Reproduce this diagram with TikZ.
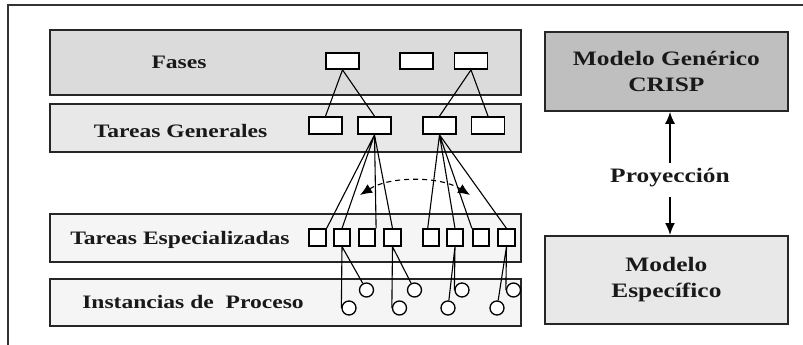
\documentclass[tikz,border=0pt]{standalone}
\usepackage{fontspec}
\setmainfont{Liberation Serif}[FakeStretch=1.24]
\usetikzlibrary{arrows.meta}
\begin{document}
\begin{tikzpicture}[x=1pt,y=-1pt,
  band/.style={rectangle, draw=black!85, line width=1.8pt, minimum width=471pt, anchor=north west, inner sep=0pt},
  bigbox/.style={rectangle, draw=black!85, line width=1.8pt, minimum width=243pt, anchor=north west, inner sep=0pt, align=center,
    font=\fontsize{20.5}{26}\selectfont\bfseries, text=black!90},
  lbl/.style={anchor=base, inner sep=0pt, font=\fontsize{19}{22}\selectfont\bfseries, text=black!90},
  wbox/.style={rectangle, draw=black, line width=1.7pt, fill=white, minimum width=33pt, minimum height=16pt, inner sep=0pt},
  sq/.style={rectangle, draw=black, line width=1.7pt, fill=white, minimum width=16.5pt, minimum height=16.5pt, inner sep=0pt},
  inst/.style={circle, draw=black, line width=1.3pt, fill=white, minimum size=14pt, inner sep=0pt},
  link/.style={draw=black, line width=1.1pt},
  tip/.tip={Latex[length=12pt,width=10pt]},
  arr/.style={draw=black, line width=1.7pt, -tip}
]
\useasboundingbox (0,0) rectangle (803,345);
% outer frame (cut off at right and bottom)
\coordinate (frTR) at (803,5);
\coordinate (frTL) at (8,5);
\coordinate (frBL) at (8,345);
\draw[black!80, line width=1.5pt] (frTR) -- (frTL) -- (frBL);

% bands
\node[band, fill=black!14, minimum height=65pt] (fb) at (49,29) {};
\node[band, fill=black!9, minimum height=48pt] (gb) at (49,103) {};
\node[band, fill=black!4, minimum height=48pt] (eb) at (49,213) {};
\node[band, fill=black!4, minimum height=47pt] (ib) at (49,278) {};

\node[lbl] (tf) at (179,68) {Fases};
\node[lbl] (tg) at (180.5,137) {Tareas Generales};
\node[lbl] (te) at (180,244) {Tareas Especializadas};
\node[lbl] (ti) at (193,308) {Instancias de\ \ Proceso};

% phases
\node[wbox] (F1) at (342.5,61) {};
\node[wbox] (F2) at (416.5,61) {};
\node[wbox] (F3) at (471,61) {};
% general tasks
\node[wbox, minimum height=17pt] (G1) at (325.5,125.5) {};
\node[wbox, minimum height=17pt] (G2) at (374.5,125.5) {};
\node[wbox, minimum height=17pt] (G3) at (439.5,125.5) {};
\node[wbox, minimum height=17pt] (G4) at (488,125.5) {};
% specialized tasks
\node[sq] (s1) at (317.5,237.5) {};
\node[sq] (s2) at (342,237.5) {};
\node[sq] (s3) at (367,237.5) {};
\node[sq] (s4) at (392.5,237.5) {};
\node[sq] (s5) at (431,237.5) {};
\node[sq] (s6) at (455,237.5) {};
\node[sq] (s7) at (481,237.5) {};
\node[sq] (s8) at (506.5,237.5) {};
% process instances
\node[inst] (u1) at (366.5,290) {};
\node[inst] (u2) at (414.5,290) {};
\node[inst] (u3) at (462,290) {};
\node[inst] (u4) at (513.5,290) {};
\node[inst] (l1) at (349,308) {};
\node[inst] (l2) at (399.5,308) {};
\node[inst] (l3) at (448,308) {};
\node[inst] (l4) at (497,308) {};

% phase -> general task links
\path[link] (F1.south) -- (G1.north) (F1.south) -- (G2.north)
            (F3.south) -- (G3.north) (F3.south) -- (G4.north);
% general -> specialized task links
\path[link] (G2.south) -- (s1.north east) (G2.south) -- (s2.north)
            (G2.south) -- (s3.north east) (G2.south) -- (s4.north);
\path[link] (G3.south) -- (s5.110) (G3.south) -- (s6.north)
            (G3.south) -- (s7.north west) (G3.south) -- (s8.north);
% specialized -> instances
\path[link] (s2.south) -- (l1.west) (s2.south) -- (u1)
            (s4.south) -- (l2.west) (s4.south) -- (u2)
            (s6.south) -- (u3.west) (s6.south) -- (l3)
            (s8.south) -- (u4.west) (s8.south) -- (l4);

% dashed double arrow
\coordinate (dL) at (360,195);
\coordinate (dR) at (470,195);
\draw[black, line width=1.1pt, dash pattern=on 5pt off 4pt, tip-tip]
  (dL) .. controls (390,176) and (440,176) .. (dR);

% right side
\node[bigbox, fill=black!25, minimum height=79pt] (gen) at (544,31) {Modelo Genérico\\CRISP};
\node[bigbox, fill=black!9, minimum height=88pt] (esp) at (544,235) {Modelo\\Específico};
\node[inner xsep=0pt, inner ysep=5pt, text height=14pt, text depth=10pt,
      font=\fontsize{20.5}{24}\selectfont\bfseries, text=black!90] (proy) at (670,180) {Proyección};
\draw[arr] (proy.north) -- (proy.north |- gen.south);
\draw[arr] (proy.south) -- (proy.south |- esp.north);
\end{tikzpicture}
\end{document}
